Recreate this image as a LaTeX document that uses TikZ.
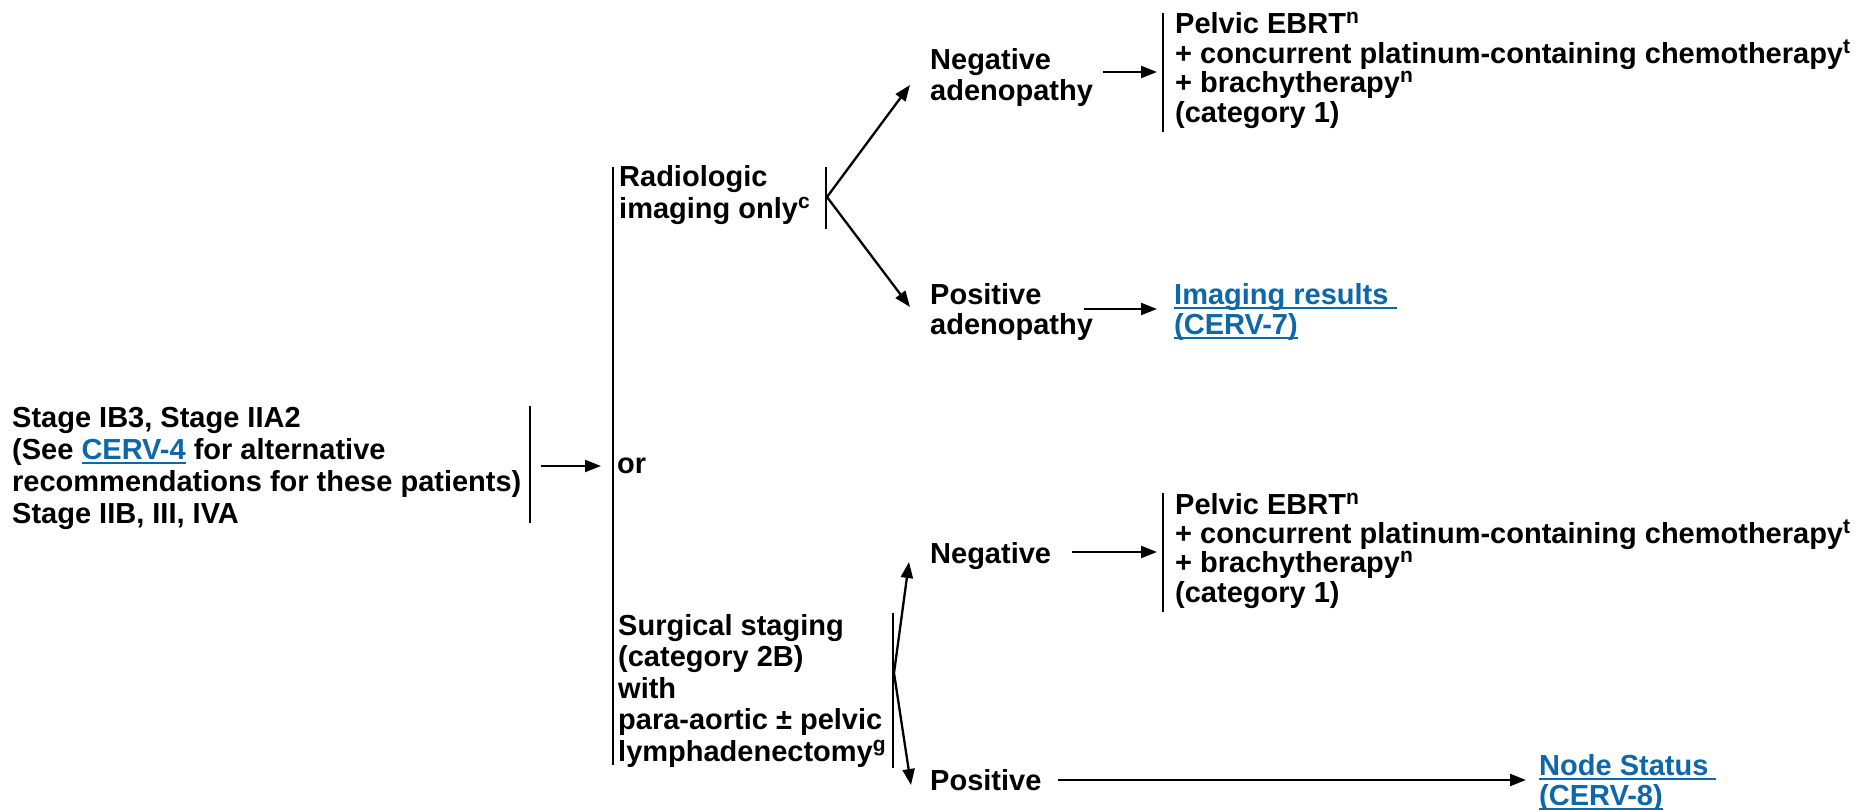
\documentclass[tikz,border=0pt]{standalone}
\usepackage{fontspec}
\setmainfont{Liberation Sans}
\usetikzlibrary{arrows.meta}
\definecolor{linkblue}{RGB}{14,103,168}
% underlined cross-reference in link colour
\newcommand\lnk[1]{{\color{linkblue}\setbox0\hbox{#1}\rlap{\rule[-4.5pt]{\wd0}{2pt}}\box0}}
% footnote marker
\newcommand\fnm[1]{\raisebox{10pt}{\fontsize{21}{21}\selectfont #1}}
\begin{document}
\begin{tikzpicture}[x=1pt,y=-1pt,
  % nodes are placed by the baseline of their last line
  txt/.style={anchor=base west, inner sep=0pt, align=left,
    font=\bfseries\fontsize{29}{32}\selectfont},
  boxtxt/.style={txt, font=\bfseries\fontsize{29}{29.4}\selectfont},
  bar/.style={line width=2.3pt},
  arr/.style={line width=2.3pt, -{Triangle[length=16pt,width=12pt]}}]
\useasboundingbox (0,0) rectangle (1861,810);

% entry condition
\node[txt] (stage) at (12,523) {Stage IB3, Stage IIA2\\(See \lnk{CERV-4} for alternative\\recommendations for these patients)\\Stage IIB, III, IVA};
\coordinate (stageT) at (530,406); \coordinate (stageB) at (530,523);
\draw[bar] (stageT) -- (stageB);
\coordinate (stageOut) at (541,466); \coordinate (trunkIn) at (601,466);
\draw[arr] (stageOut) -- (trunkIn);

% main bracket with the two workup options
\coordinate (trunkT) at (613,167); \coordinate (trunkB) at (613,765);
\draw[bar] (trunkT) -- (trunkB);
\node[txt] (radio) at (619,219) {Radiologic\\imaging only\fnm{c}};
\node[txt] (or) at (617,473) {or};
\node[txt, font=\bfseries\fontsize{29}{31.5}\selectfont] (surg) at (618,761) {Surgical staging\\(category 2B)\\with\\para-aortic \textpm{} pelvic\\lymphadenectomy\fnm{g}};

% radiologic branch
\coordinate (radioT) at (826,167); \coordinate (radioB) at (826,229);
\draw[bar] (radioT) -- (radioB);
\coordinate (radioOut) at (827,197);
\coordinate (negadIn) at (910,85); \coordinate (posadIn) at (910,307);
\draw[arr] (radioOut) -- (negadIn);
\draw[arr] (radioOut) -- (posadIn);

\node[txt, font=\bfseries\fontsize{29}{31}\selectfont] (negad) at (930,101) {Negative\\adenopathy};
\coordinate (negadOut) at (1103,72); \coordinate (tx1In) at (1157,72);
\draw[arr] (negadOut) -- (tx1In);
\coordinate (tx1T) at (1163,13); \coordinate (tx1B) at (1163,132);
\draw[bar] (tx1T) -- (tx1B);
\node[boxtxt] (tx1) at (1175,122.2) {Pelvic EBRT\fnm{n}\\+ concurrent platinum-containing chemotherapy\fnm{t}\\+ brachytherapy\fnm{n}\\(category 1)};

\node[txt, font=\bfseries\fontsize{29}{30.5}\selectfont] (posad) at (930,334.5) {Positive\\adenopathy};
\coordinate (posadOut) at (1084,309); \coordinate (imgIn) at (1157,309);
\draw[arr] (posadOut) -- (imgIn);
\node[txt, font=\bfseries\fontsize{29}{30.5}\selectfont] (img) at (1174,334.5) {\lnk{Imaging results\ }\\\lnk{(CERV-7)}};

% surgical branch
\coordinate (surgT) at (893,613); \coordinate (surgB) at (893,768);
\draw[bar] (surgT) -- (surgB);
\coordinate (surgOut) at (894,673);
\coordinate (negIn) at (909,562); \coordinate (posIn) at (911,785);
\draw[arr] (surgOut) -- (negIn);
\draw[arr] (surgOut) -- (posIn);

\node[txt] (neg) at (930,563) {Negative};
\coordinate (negOut) at (1072,552); \coordinate (tx2In) at (1157,552);
\draw[arr] (negOut) -- (tx2In);
\coordinate (tx2T) at (1163,493); \coordinate (tx2B) at (1163,612);
\draw[bar] (tx2T) -- (tx2B);
\node[boxtxt] (tx2) at (1175,602.2) {Pelvic EBRT\fnm{n}\\+ concurrent platinum-containing chemotherapy\fnm{t}\\+ brachytherapy\fnm{n}\\(category 1)};

\node[txt] (pos) at (930,790) {Positive};
\coordinate (posOut) at (1058,780); \coordinate (nodeIn) at (1526,780);
\draw[arr] (posOut) -- (nodeIn);
\node[txt, font=\bfseries\fontsize{29}{30}\selectfont] (nstat) at (1539,805) {\lnk{Node Status\ }\\\lnk{(CERV-8)}};
\end{tikzpicture}
\end{document}
